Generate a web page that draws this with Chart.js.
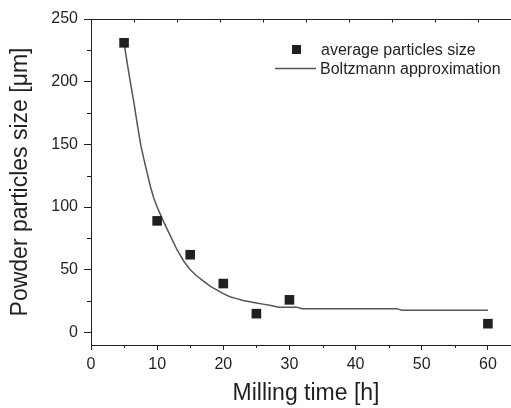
<!DOCTYPE html>
<html>
<head>
<meta charset="utf-8">
<script src="https://cdn.jsdelivr.net/npm/chart.js@4"></script>
<style>
  html, body { margin: 0; padding: 0; background: #fff; overflow: hidden; }
</style>
</head>
<body>
<canvas id="chart" width="530" height="408"></canvas>
<script>
// measured points
const millingTime = [5, 10, 15, 20, 25, 30, 60];
const particleSize = [231, 89, 62, 39, 15, 26, 7];

// Boltzmann curve
const fitTime = [5, 5.5, 6, 6.5, 7, 7.5, 8, 8.5, 9, 9.5, 10, 11, 12, 13, 14, 15, 16, 17, 18, 19, 20,
  21, 22, 23, 24, 25, 26, 27, 28.4, 31.1, 31.9, 46.2, 47, 60];
const fitSize = [231, 214, 198, 183, 166, 150, 138, 127, 116, 107, 100, 88, 77, 66, 57, 50, 45, 41, 37, 34, 31,
  28.5, 27, 25.5, 24.5, 23.5, 22.6, 21.7, 20.2, 20.2, 19, 19, 17.8, 17.8];

const xTickValues = [0, 10, 20, 30, 40, 50, 60];
const xMinorValues = [5, 15, 25, 35, 45, 55];
const yTickValues = [0, 50, 100, 150, 200, 250];
const yMinorValues = [25, 75, 125, 175, 225];

const ink = "#231f20";
const fitColor = "#555555";

const extraTicks = {
  id: "extraTicks",
  afterDraw(chart) {
    const { ctx, chartArea, scales } = chart;
    const x = scales.x, y = scales.y;
    ctx.save();
    ctx.strokeStyle = ink;
    ctx.lineWidth = 1;
    ctx.beginPath();
    xMinorValues.forEach((v) => {
      const px = Math.round(x.getPixelForValue(v)) + 0.5;
      ctx.moveTo(px, chartArea.bottom);
      ctx.lineTo(px, chartArea.bottom + 3);
    });
    yMinorValues.forEach((v) => {
      const py = Math.round(y.getPixelForValue(v)) + 0.5;
      ctx.moveTo(chartArea.left - 4, py);
      ctx.lineTo(chartArea.left, py);
    });
    // top frame with its own 10 divisions
    const top = Math.round(chartArea.top) + 0.5;
    ctx.moveTo(chartArea.left, top);
    ctx.lineTo(chartArea.right, top);
    for (let i = 1; i < 10; i++) {
      const px = Math.round(x.getPixelForValue(x.min + (i * (x.max - x.min)) / 10)) + 0.5;
      ctx.moveTo(px, top);
      ctx.lineTo(px, top + 3);
    }
    ctx.moveTo(Math.round(chartArea.right) + 0.5, chartArea.top);
    ctx.lineTo(Math.round(chartArea.right) + 0.5, chartArea.bottom);
    ctx.stroke();
    ctx.restore();
  },
};

const insideLegend = {
  id: "insideLegend",
  afterDraw(chart) {
    const { ctx } = chart;
    const ds = chart.data.datasets;
    ctx.save();
    ctx.font = "16px 'Liberation Sans', Arial, sans-serif";
    ctx.fillStyle = ink;
    ctx.textBaseline = "alphabetic";
    ctx.textAlign = "left";
    // square marker entry
    ctx.fillStyle = ds[0].backgroundColor;
    ctx.fillRect(292, 45, 9, 9);
    ctx.fillStyle = ink;
    ctx.fillText(ds[0].label, 321, 55);
    // line entry
    ctx.strokeStyle = ds[1].borderColor;
    ctx.lineWidth = ds[1].borderWidth;
    ctx.beginPath();
    ctx.moveTo(275, 68.5);
    ctx.lineTo(316, 68.5);
    ctx.stroke();
    ctx.fillText(ds[1].label, 320, 74);
    ctx.restore();
  },
};

new Chart(document.getElementById("chart"), {
  type: "scatter",
  data: {
    datasets: [
      {
        label: "average particles size",
        data: millingTime.map((t, i) => ({ x: t, y: particleSize[i] })),
        pointStyle: "rect",
        pointRadius: 6.8,
        backgroundColor: ink,
        borderColor: ink,
        borderWidth: 0,
        order: 0,
      },
      {
        label: "Boltzmann approximation",
        data: fitTime.map((t, i) => ({ x: t, y: fitSize[i] })),
        showLine: true,
        pointRadius: 0,
        borderColor: fitColor,
        borderWidth: 1.5,
        tension: 0,
        order: 1,
      },
    ],
  },
  options: {
    responsive: false,
    animation: false,
    layout: { padding: { top: 19, right: 9, left: 0, bottom: 0 } },
    plugins: {
      legend: { display: false },
      tooltip: { enabled: false },
    },
    scales: {
      x: {
        type: "linear",
        min: 0,
        max: 65,
        afterBuildTicks: (scale) => {
          scale.ticks = xTickValues.map((v) => ({ value: v }));
        },
        afterFit: (scale) => {
          scale.height = 63;
        },
        ticks: {
          color: ink,
          padding: 5,
          maxRotation: 0,
          font: { family: "'Liberation Sans', Arial, sans-serif", size: 16 },
        },
        grid: { drawOnChartArea: false, tickLength: 5, tickColor: ink, tickWidth: 1 },
        border: { color: ink, width: 1 },
        title: {
          display: true,
          text: "Milling time [h]",
          color: ink,
          padding: { top: 0, bottom: 1 },
          font: { family: "'Liberation Sans', Arial, sans-serif", size: 23 },
        },
      },
      y: {
        type: "linear",
        min: -10,
        max: 250,
        afterBuildTicks: (scale) => {
          scale.ticks = yTickValues.map((v) => ({ value: v }));
        },
        afterFit: (scale) => {
          scale.width = 91;
        },
        ticks: {
          color: ink,
          padding: 6,
          font: { family: "'Liberation Sans', Arial, sans-serif", size: 16 },
        },
        grid: { drawOnChartArea: false, tickLength: 7, tickColor: ink, tickWidth: 1 },
        border: { color: ink, width: 1 },
        title: {
          display: true,
          text: "Powder particles size [μm]",
          color: ink,
          padding: { top: 7, bottom: 0 },
          font: { family: "'Liberation Sans', Arial, sans-serif", size: 23 },
        },
      },
    },
  },
  plugins: [extraTicks, insideLegend],
});
</script>
</body>
</html>
